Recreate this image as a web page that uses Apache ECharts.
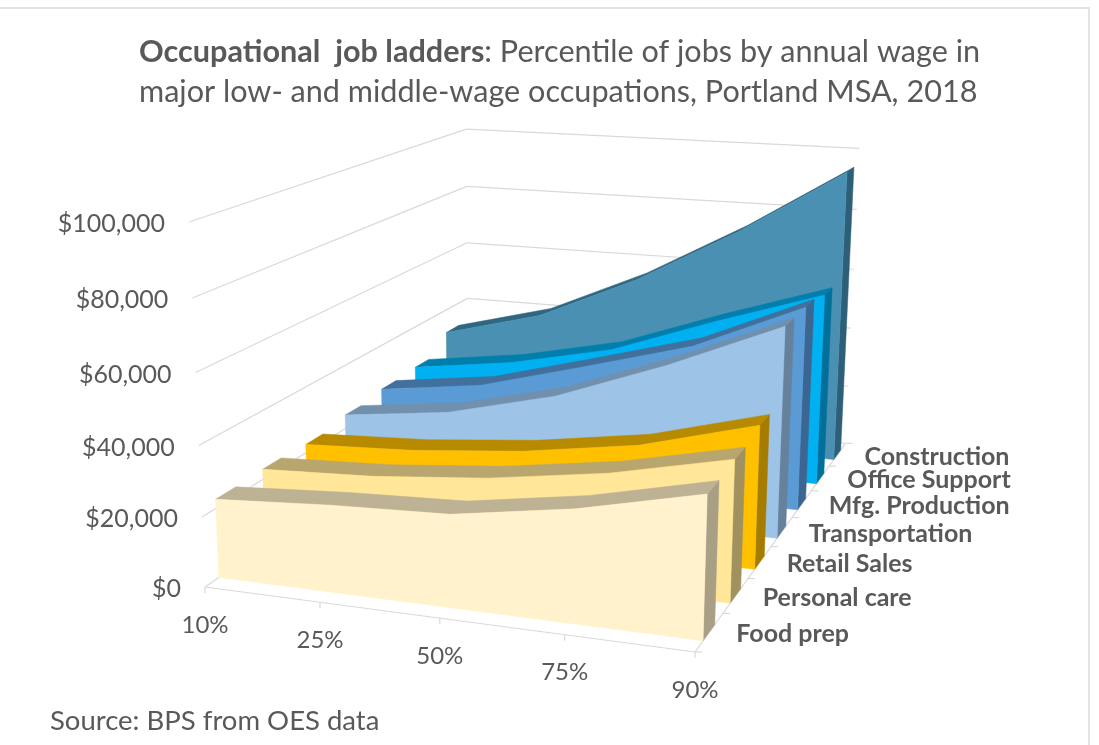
<!DOCTYPE html>
<html>
<head>
<meta charset="utf-8">
<title>Occupational job ladders</title>
<script src="https://cdn.jsdelivr.net/npm/echarts@6/dist/echarts.min.js"></script>
<style>
  html, body { margin: 0; padding: 0; background: #fff; }
  #chart { width: 1099px; height: 745px; }
</style>
</head>
<body>
<div id="chart"></div>
<script>
// data
const percentiles = ['10%', '25%', '50%', '75%', '90%'];
const wageTicks = [0, 20000, 40000, 60000, 80000, 100000];
const occupations = ['Food prep', 'Personal care', 'Retail Sales', 'Transportation', 'Mfg. Production', 'Office Support', 'Construction'];

const foodPrep = [22600, 24700, 26000, 31300, 39000];
const personalCare = [23000, 24500, 27600, 32600, 40000];
const retailSales = [22600, 24200, 27400, 32600, 41700];
const transportation = [24300, 28400, 36600, 49000, 63300];
const mfgProduction = [25600, 30000, 39000, 48300, 63000];
const officeSupport = [26200, 30800, 38000, 50000, 61000];
const construction = [32000, 40700, 55600, 74000, 95000];

const wages = [foodPrep, personalCare, retailSales, transportation, mfgProduction, officeSupport, construction];

const faceColors = ['#fff2cc', '#ffe699', '#ffc000', '#9dc3e6', '#5b9bd5', '#00b0f0', '#4a90b3'];
const topColors = ['#bdb293', '#b9a66e', '#b88a00', '#7190ad', '#41709c', '#007fad', '#2f6780'];
const sideColors = ['#a89f85', '#a1915f', '#a67c00', '#66819b', '#3c6691', '#006f9a', '#2d6078'];

// perspective of the 3D box: floor corners, top of the front-left edge and their depth weights
const cornerO = [205, 587];
const cornerU = [695, 652];
const cornerW = [468, 407];
const cornerH = [189, 222];
const weightU = 0.92;
const weightW = 1.33;
const weightH = 0.95;
const maxWage = 100000;

// u: along percentiles, w: along occupations, wage: height
function project(u, w, wage) {
  const h = wage / maxWage;
  const o = 1 - u - w - h;
  const d = o + weightU * u + weightW * w + weightH * h;
  return [0, 1].map(i => (o * cornerO[i] + weightU * u * cornerU[i] + weightW * w * cornerW[i] + weightH * h * cornerH[i]) / d);
}

const GREY = '#595959';
const LINE = '#d9d9d9';
const bandFront = 0.28;
const bandBack = 0.7;

function polygon(points, color) {
  return {
    type: 'polygon',
    shape: { points },
    style: { fill: color, stroke: color, lineWidth: 0.5 }
  };
}

function line(a, b) {
  return {
    type: 'line',
    shape: { x1: a[0], y1: a[1], x2: b[0], y2: b[1] },
    style: { stroke: LINE, lineWidth: 1.2, fill: null }
  };
}

function label(text, pos, font, align) {
  return {
    type: 'text',
    style: { text, x: pos[0], y: pos[1], font, fill: GREY, align, verticalAlign: 'middle' }
  };
}

// walls, floor lines, ticks and axis labels
function renderFrame(params, api) {
  if (params.dataIndex !== 0) return null;
  const at = (u, w, wage) => api.coord(project(u, w, wage));
  const children = [];

  wageTicks.forEach(tick => {
    children.push(line(at(0, 0, tick), at(0, 1, tick)));
    children.push(line(at(0, 1, tick), at(1, 1, tick)));
    const p = at(0, 0, tick);
    children.push(label('$' + tick.toLocaleString('en-US'), [p[0] - 24, p[1] + 2], '25px Lato', 'right'));
  });

  children.push(line(at(0, 0, 0), at(1, 0, 0)));
  children.push(line(at(1, 0, 0), at(1, 1, 0)));

  percentiles.forEach((name, i) => {
    const p = at(i / (percentiles.length - 1), 0, 0);
    children.push(line(p, [p[0], p[1] + 6]));
    children.push(label(name, [p[0], p[1] + 38], '24px Lato', 'center'));
  });

  occupations.forEach((name, i) => {
    const count = occupations.length;
    const p = at(1, i / count, 0);
    children.push(line(p, [p[0] + 7, p[1]]));
    const mid = at(1, (i + 0.5) / count, 0);
    children.push(label(name, [mid[0] + 27, mid[1] + 2], 'bold 25px Lato', 'left'));
  });
  const end = at(1, 1, 0);
  children.push(line(end, [end[0] + 7, end[1]]));

  return { type: 'group', children };
}

// one ribbon: right end, top strip, then front face
function renderRibbon(row) {
  return function (params, api) {
    if (params.dataIndex !== 0) return null;
    const values = wages[row];
    const last = values.length - 1;
    const front = (row + bandFront) / occupations.length;
    const back = (row + bandBack) / occupations.length;
    const at = (i, w, wage) => api.coord(project(i / last, w, wage));
    const children = [];

    children.push(polygon([at(last, front, 0), at(last, back, 0), at(last, back, values[last]), at(last, front, values[last])], sideColors[row]));

    const frontTop = values.map((v, i) => at(i, front, v));
    const backTop = values.map((v, i) => at(i, back, v));
    children.push(polygon(frontTop.concat(backTop.reverse()), topColors[row]));

    children.push(polygon(frontTop.concat([at(last, front, 0), at(0, front, 0)]), faceColors[row]));

    return { type: 'group', children };
  };
}

const chart = echarts.init(document.getElementById('chart'), null, { renderer: 'canvas' });

const series = [{
  type: 'custom',
  name: 'frame',
  coordinateSystem: 'cartesian2d',
  renderItem: renderFrame,
  data: [[0, 0]],
  silent: true,
  z: 1
}];

// back to front so the nearer ribbons cover the others
occupations.forEach((name, row) => {
  series.push({
    type: 'custom',
    name,
    coordinateSystem: 'cartesian2d',
    renderItem: renderRibbon(row),
    data: wages[row].map((v, i) => [i, v]),
    encode: { x: 0, y: 1 },
    silent: true,
    z: 2 + occupations.length - row
  });
});

chart.setOption({
  animation: false,
  backgroundColor: '#fff',
  title: {
    left: 134,
    top: 27,
    text: '{b|Occupational  job ladders}{r|: Percentile of jobs by annual wage in}\n{r|major low- and middle-wage occupations, Portland MSA, 2018}',
    textStyle: {
      rich: {
        b: { fontFamily: 'Lato', fontSize: 30.6, fontWeight: 'bold', color: GREY, lineHeight: 40 },
        r: { fontFamily: 'Lato', fontSize: 30.6, fontWeight: 'normal', color: GREY, lineHeight: 40 }
      }
    }
  },
  grid: { left: 0, right: 0, top: 0, bottom: 0 },
  xAxis: { type: 'value', min: 0, max: 1099, show: false },
  yAxis: { type: 'value', min: 0, max: 745, inverse: true, show: false },
  series,
  graphic: [
    {
      type: 'polyline',
      shape: { points: [[0, 8], [1089, 8], [1089, 745]] },
      style: { stroke: '#e3e3e3', lineWidth: 2, fill: null }
    },
    {
      type: 'text',
      left: 50,
      top: 707,
      style: { text: 'Source: BPS from OES data', font: '27.5px Lato', fill: GREY }
    }
  ]
});
</script>
</body>
</html>
